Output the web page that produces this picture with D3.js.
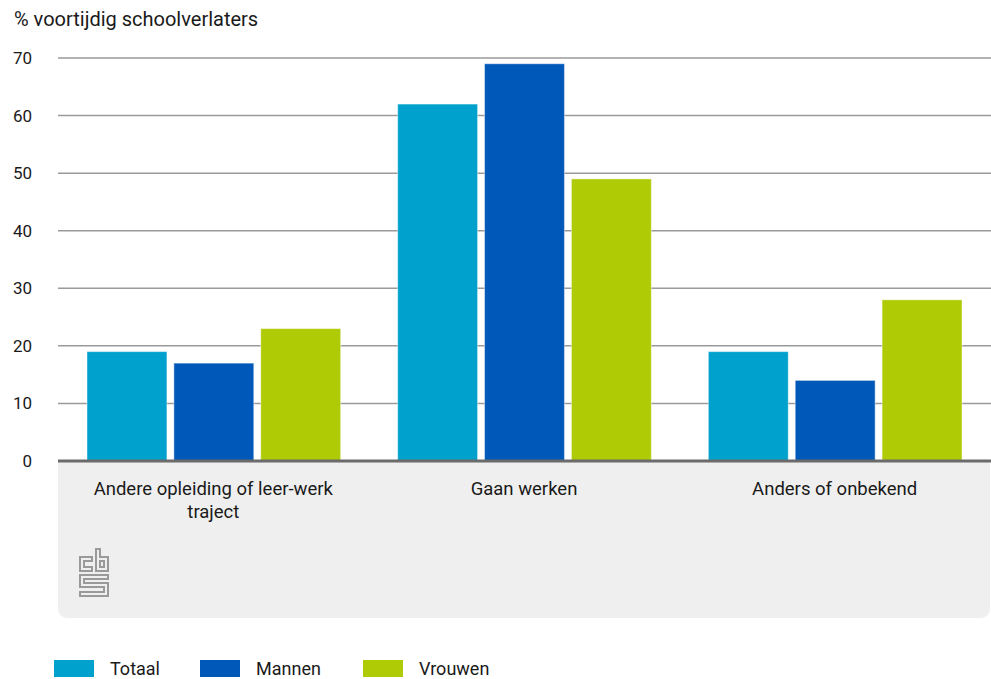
<!DOCTYPE html>
<html><head><meta charset="utf-8">
<script src="https://cdn.jsdelivr.net/npm/d3@7"></script>
<style>body{margin:0;background:#fff;}svg{display:block;font-family:Roboto,"Open Sans",sans-serif;}</style>
</head><body>
<svg id="c" width="991" height="679"></svg>
<script>
const categories = ["Andere opleiding of leer-werk traject", "Gaan werken", "Anders of onbekend"];
const seriesNames = ["Totaal", "Mannen", "Vrouwen"];
const totaal = [19, 62, 19];
const mannen = [17, 69, 14];
const vrouwen = [23, 49, 28];
const yTicks = [0, 10, 20, 30, 40, 50, 60, 70];
const colors = ["#00a2cd", "#0058b8", "#afcb05"];
const yTitle = "% voortijdig schoolverlaters";

const series = [totaal, mannen, vrouwen];
const svg = d3.select("#c");
const L = 58, R = 991, T = 58, B = 461;

const x0 = d3.scaleBand().domain(categories).range([L, R - 1]).paddingInner(0).paddingOuter(0);
const x1 = d3.scaleBand().domain(seriesNames).range([29, x0.bandwidth() - 28]).paddingInner(0.08).paddingOuter(0);
const y = d3.scaleLinear().domain([0, 70]).range([B, T]);

// gray panel below axis
const pw = R - 1 - L, ph = 618 - B, r = 9;
svg.append("path")
  .attr("d", `M${L},${B} h${pw} v${ph - r} a${r},${r} 0 0 1 ${-r},${r} h${-(pw - 2*r)} a${r},${r} 0 0 1 ${-r},${-r} Z`)
  .attr("fill", "#efefef");

// grid
svg.append("g").selectAll("line").data(yTicks.filter(d => d > 0)).join("line")
  .attr("x1", L).attr("x2", R).attr("y1", d => y(d)).attr("y2", d => y(d))
  .attr("stroke", "#9a9a9a").attr("stroke-width", 1.5);

// y axis labels
const yAxis = d3.axisLeft(y).tickValues(yTicks).tickSize(0).tickPadding(0);
const ya = svg.append("g").attr("transform", `translate(32,0)`).call(yAxis);
ya.select(".domain").remove();
ya.selectAll("text").attr("font-size", 17).attr("fill", "#1a1a1a").attr("font-family", "Roboto, sans-serif");

// bars
const g = svg.append("g").selectAll("g").data(categories).join("g")
  .attr("transform", d => `translate(${x0(d)},0)`);
g.selectAll("rect").data((d, i) => seriesNames.map((s, j) => ({s, v: series[j][i], c: colors[j]}))).join("rect")
  .attr("x", d => x1(d.s)).attr("width", x1.bandwidth())
  .attr("y", d => y(d.v)).attr("height", d => y(0) - y(d.v))
  .attr("fill", d => d.c).attr("stroke", "rgba(255,255,255,0.45)").attr("stroke-width", 1);

// axis line
svg.append("line").attr("x1", L).attr("x2", R).attr("y1", B).attr("y2", B)
  .attr("stroke", "#6b6b6b").attr("stroke-width", 3);

// category labels
const catLines = [["Andere opleiding of leer-werk", "traject"], ["Gaan werken"], ["Anders of onbekend"]];
categories.forEach((c, i) => {
  const cx = x0(c) + x0.bandwidth()/2;
  const t = svg.append("text").attr("x", cx).attr("y", 495)
    .attr("text-anchor", "middle").attr("font-size", 18.5).attr("fill", "#1a1a1a");
  catLines[i].forEach((ln, k) => t.append("tspan").attr("x", cx).attr("dy", k ? 23 : 0).text(ln));
});

// title
svg.append("text").attr("x", 14).attr("y", 26).attr("font-size", 20).attr("fill", "#1a1a1a").text(yTitle);

// CBS logo (approximation)
const logo = svg.append("g").attr("transform", "translate(79,548)").attr("fill", "none").attr("stroke", "#9a9a9a").attr("stroke-width", 2);
logo.append("path").attr("d", "M1,9 h12 v4 h-8 v6 h8 v4 h-12 Z");
logo.append("path").attr("d", "M17,1 h4 v8 h8 v14 h-12 Z M21,13 v6 h4 v-6 Z");
logo.append("path").attr("d", "M1,27 h28 v4 h-24 v4 h24 v13 h-28 v-4 h24 v-5 h-24 Z");

// legend
const legX = [54, 200, 363];
seriesNames.forEach((s, i) => {
  svg.append("rect").attr("x", legX[i]).attr("y", 660).attr("width", 40).attr("height", 17).attr("fill", colors[i]);
  svg.append("text").attr("x", legX[i] + 56).attr("y", 675).attr("font-size", 18).attr("fill", "#1a1a1a").text(s);
});
</script>
</body></html>
